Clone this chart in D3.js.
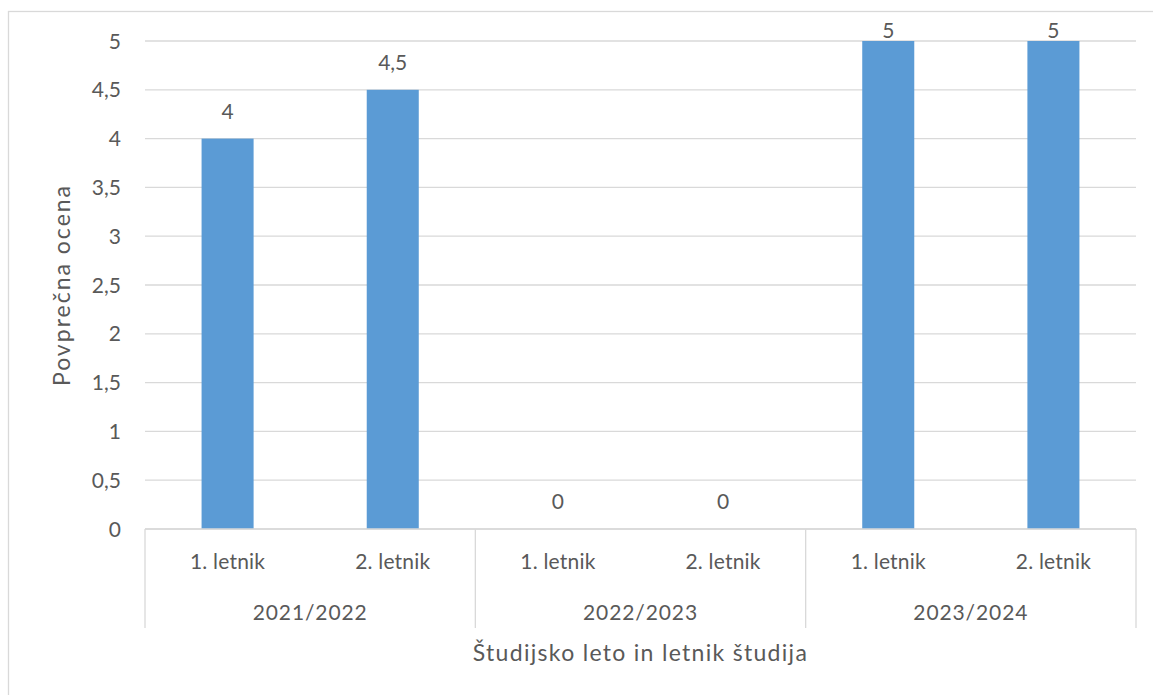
<!DOCTYPE html>
<html>
<head>
<meta charset="utf-8">
<script src="https://cdn.jsdelivr.net/npm/d3@7"></script>
<style>
  html, body { margin: 0; padding: 0; background: #fff; }
  svg { display: block; font-family: Lato, "Noto Sans", sans-serif; }
  .grid line { stroke: #d9d9d9; stroke-width: 1.3; }
  .lbl { fill: #595959; }
</style>
</head>
<body>
<div id="chart"></div>
<script>
// data
const years = ['2021/2022', '2022/2023', '2023/2024'];
const letniki = ['1. letnik', '2. letnik'];
const ocene = [4, 4.5, 0, 0, 5, 5];
const yTicks = [0, 0.5, 1, 1.5, 2, 2.5, 3, 3.5, 4, 4.5, 5];

const W = 1153, H = 695;
const margin = { top: 41, right: 17, bottom: 166, left: 145 };
const fmt = v => String(v).replace('.', ',');

const rows = [];
years.forEach((yr, i) => {
  letniki.forEach((l, j) => {
    rows.push({ key: yr + '|' + l, year: yr, letnik: l, value: ocene[i * letniki.length + j] });
  });
});

const svg = d3.select('#chart').append('svg')
  .attr('width', W)
  .attr('height', H);

// chart area border (right/bottom edges fall outside the frame)
svg.append('rect')
  .attr('x', 8.5).attr('y', 11.5)
  .attr('width', W + 20).attr('height', H + 20)
  .attr('fill', '#fff')
  .attr('stroke', '#d9d9d9')
  .attr('stroke-width', 1.3);

const x = d3.scaleBand()
  .domain(rows.map(d => d.key))
  .range([margin.left, W - margin.right])
  .paddingInner(0.685)
  .paddingOuter(0.3425);

const xGroup = d3.scaleBand()
  .domain(years)
  .range([margin.left, W - margin.right]);

const y = d3.scaleLinear()
  .domain([0, 5])
  .range([H - margin.bottom, margin.top]);

// gridlines
svg.append('g')
  .attr('class', 'grid')
  .selectAll('line')
  .data(yTicks)
  .join('line')
  .attr('x1', margin.left)
  .attr('x2', W - margin.right)
  .attr('y1', d => y(d))
  .attr('y2', d => y(d));

// y tick labels
svg.append('g')
  .selectAll('text')
  .data(yTicks)
  .join('text')
  .attr('class', 'lbl')
  .attr('x', margin.left - 24)
  .attr('y', d => y(d))
  .attr('dy', '0.36em')
  .attr('text-anchor', 'end')
  .style('font-size', '21px')
  .text(fmt);

// bars
svg.append('g')
  .selectAll('rect')
  .data(rows)
  .join('rect')
  .attr('x', d => x(d.key))
  .attr('width', x.bandwidth())
  .attr('y', d => y(d.value))
  .attr('height', d => y(0) - y(d.value))
  .attr('fill', '#5b9bd5');

// data labels (pushed down when they would leave the plot)
svg.append('g')
  .selectAll('text')
  .data(rows)
  .join('text')
  .attr('class', 'lbl')
  .attr('x', d => x(d.key) + x.bandwidth() / 2)
  .attr('y', d => Math.max(y(d.value) - 20, margin.top - 3))
  .attr('text-anchor', 'middle')
  .style('font-size', '21px')
  .text(d => fmt(d.value));

// category axis: baseline, group separators
const axis = svg.append('g').attr('class', 'grid');
axis.append('line')
  .attr('x1', margin.left).attr('x2', W - margin.right)
  .attr('y1', y(0)).attr('y2', y(0));
axis.selectAll('.sep')
  .data(years.concat(['end']))
  .join('line')
  .attr('class', 'sep')
  .attr('x1', (d, i) => i < years.length ? xGroup(d) : W - margin.right)
  .attr('x2', (d, i) => i < years.length ? xGroup(d) : W - margin.right)
  .attr('y1', y(0))
  .attr('y2', y(0) + 99);

svg.append('g')
  .selectAll('text')
  .data(rows)
  .join('text')
  .attr('class', 'lbl')
  .attr('x', d => x(d.key) + x.bandwidth() / 2)
  .attr('y', y(0) + 40)
  .attr('text-anchor', 'middle')
  .style('font-size', '21px')
  .style('letter-spacing', '0.2px')
  .text(d => d.letnik);

svg.append('g')
  .selectAll('text')
  .data(years)
  .join('text')
  .attr('class', 'lbl')
  .attr('x', d => xGroup(d) + xGroup.bandwidth() / 2)
  .attr('y', y(0) + 91)
  .attr('text-anchor', 'middle')
  .style('font-size', '21px')
  .style('letter-spacing', '0.9px')
  .text(d => d);

// axis titles
svg.append('text')
  .attr('class', 'lbl')
  .attr('x', (margin.left + W - margin.right) / 2)
  .attr('y', y(0) + 132)
  .attr('text-anchor', 'middle')
  .style('font-size', '23px')
  .style('letter-spacing', '1.3px')
  .text('Študijsko leto in letnik študija');

svg.append('text')
  .attr('class', 'lbl')
  .attr('transform', `translate(70,${(margin.top + y(0)) / 2}) rotate(-90)`)
  .attr('text-anchor', 'middle')
  .style('font-size', '23px')
  .style('letter-spacing', '2px')
  .text('Povprečna ocena');
</script>
</body>
</html>
